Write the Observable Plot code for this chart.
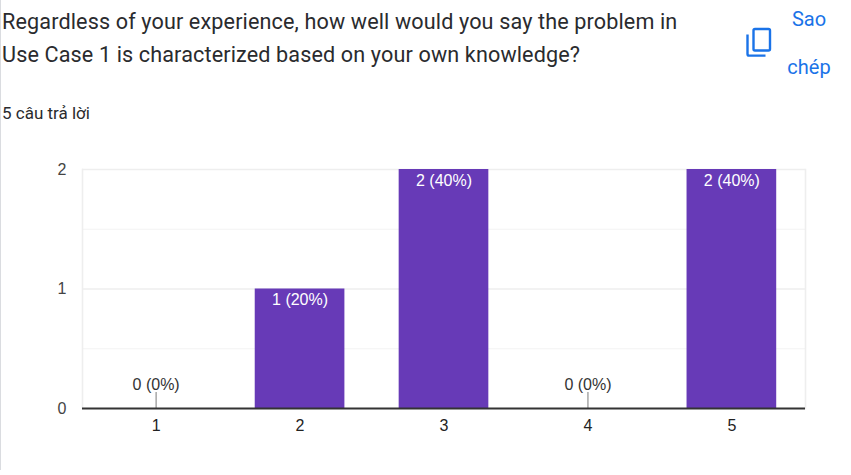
<!DOCTYPE html>
<html>
<head>
<meta charset="utf-8">
<script src="https://cdn.jsdelivr.net/npm/d3@7"></script>
<script src="https://cdn.jsdelivr.net/npm/@observablehq/plot@0.6"></script>
<style>
html,body{margin:0;padding:0;background:#fff;overflow:hidden}
#page{position:relative;width:851px;height:475px;overflow:hidden;background:#fff}
#card{position:absolute;left:0;top:0;width:1px;height:470px;background:#dadce0;pointer-events:none}
#title{position:absolute;left:2px;top:5px;width:720px;font:400 21.6px/33px Roboto,sans-serif;color:#2a2b2e;letter-spacing:.13px}
#count{position:absolute;left:2px;top:103px;font:400 17px/20px Roboto,sans-serif;color:#2a2b2e;white-space:nowrap}
.copy{position:absolute;font:400 20px/20px Roboto,sans-serif;color:#1a73e8;text-align:center;width:60px;left:779px}
#icon{position:absolute;left:740px;top:24px}
#chart{position:absolute;left:0;top:130px}
#chart svg{display:block;background:transparent}
</style>
</head>
<body>
<div id="page">
  <div id="card"></div>
  <div id="title">Regardless of your experience, how well would you say the problem in<br>Use Case 1 is characterized based on your own knowledge?</div>
  <div id="count">5 câu trả lời</div>
  <div class="copy" style="top:9px">Sao</div>
  <div class="copy" style="top:57px">chép</div>
  <svg id="icon" width="36" height="36" viewBox="0 0 24 24" fill="#1a73e8"><path d="M10 2.5h9a1.8 1.8 0 0 1 1.8 1.8v12.4a1.8 1.8 0 0 1-1.8 1.8h-9a1.8 1.8 0 0 1-1.8-1.8V4.3A1.8 1.8 0 0 1 10 2.5zm0 1.6a.2.2 0 0 0-.2.2v12.4c0 .1.1.2.2.2h9a.2.2 0 0 0 .2-.2V4.3a.2.2 0 0 0-.2-.2h-9z"/><path d="M4.2 7h1.6v13c0 .2.1.3.3.3h10.9v1.6H6.1a1.9 1.9 0 0 1-1.9-1.9V7z"/></svg>
  <div id="chart"></div>
</div>
<script>
const categories = ["1","2","3","4","5"];
const counts = [0,1,2,0,2];
const labels = ["0 (0%)","1 (20%)","2 (40%)","0 (0%)","2 (40%)"];
const majorTicks = [0,1,2];
const minorTicks = [0.5,1.5];
const leaderHeight = 0.134;

const rows = categories.map((c,i)=>({c, v:counts[i], label:labels[i]}));
const zeros = rows.filter(d=>d.v===0);
const nonzero = rows.filter(d=>d.v>0);

const chart = Plot.plot({
  width:851, height:345,
  marginLeft:82, marginRight:46, marginTop:39, marginBottom:67,
  style:{fontFamily:"'Liberation Sans',Arial,sans-serif",background:"transparent"},
  x:{domain:categories,paddingInner:0.377,paddingOuter:0.2,round:false,label:null,tickSize:0,tickPadding:11},
  y:{domain:[0,2],ticks:majorTicks,tickFormat:d3.format("d"),label:null,tickSize:0,tickPadding:16},
  marks:[
    Plot.ruleY(minorTicks,{stroke:"#f3f3f3",strokeWidth:1}),
    Plot.ruleY([1,2],{stroke:"#eeeeee",strokeWidth:1.6}),
    Plot.frame({anchor:"left",stroke:"#eeeeee",strokeWidth:1.6}),
    Plot.frame({anchor:"right",stroke:"#eeeeee",strokeWidth:1.6}),
    Plot.barY(rows,{x:"c",y:"v",fill:"#673ab7"}),
    Plot.ruleX(zeros,{x:"c",y1:0,y2:leaderHeight,stroke:"#999999",strokeWidth:1.3}),
    Plot.ruleY([0],{stroke:"#333333",strokeWidth:2}),
    Plot.text(nonzero,{x:"c",y:"v",text:"label",fill:"#ffffff",fontSize:16,dy:11}),
    Plot.text(zeros,{x:"c",y:leaderHeight,text:"label",fill:"#333333",fontSize:16,dy:-8})
  ]
});
chart.querySelectorAll('[aria-label="y-axis tick label"] text, [aria-label="x-axis tick label"] text').forEach(t=>t.style.fontSize="16px");
chart.querySelector('[aria-label="y-axis tick label"]').setAttribute("fill","#444444");
chart.querySelector('[aria-label="x-axis tick label"]').setAttribute("fill","#222222");
document.getElementById("chart").appendChild(chart);
</script>
</body>
</html>
